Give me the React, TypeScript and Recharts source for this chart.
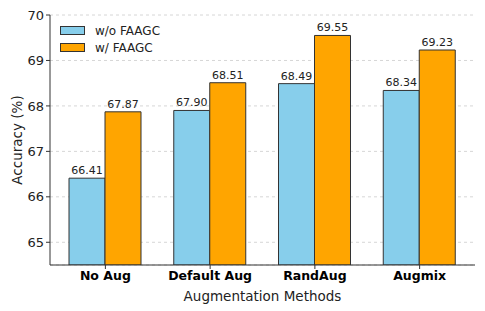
import { BarChart, Bar, XAxis, YAxis, CartesianGrid, LabelList } from 'recharts'

const methods = ['No Aug', 'Default Aug', 'RandAug', 'Augmix']
const withoutFaagc = [66.41, 67.9, 68.49, 68.34]
const withFaagc = [67.87, 68.51, 69.55, 69.23]
const yTicks = [65, 66, 67, 68, 69, 70]

const data = methods.map((m, i) => ({ method: m, without: withoutFaagc[i], with: withFaagc[i] }))

const FONT = '"DejaVu Sans", sans-serif'

const legendItems = [
  { label: 'w/o FAAGC', color: '#87CEEB' },
  { label: 'w/ FAAGC', color: '#FFA500' },
]

function LegendBox() {
  return (
    <div style={{ position: 'absolute', left: 60, top: 22, fontFamily: FONT, fontSize: 12, color: '#222' }}>
      {legendItems.map((it) => (
        <div key={it.label} style={{ display: 'flex', alignItems: 'center', height: 17 }}>
          <span
            style={{
              display: 'inline-block',
              width: 25,
              height: 9,
              background: it.color,
              border: '1px solid #333',
              boxSizing: 'border-box',
              marginRight: 10,
            }}
          />
          {it.label}
        </div>
      ))}
    </div>
  )
}

export default function App() {
  return (
    <div style={{ position: 'absolute', left: 0, top: 0, width: 485, height: 311, background: '#fff' }}>
      <BarChart
        width={485}
        height={311}
        data={data}
        margin={{ top: 15, right: 10, left: 0, bottom: 0 }}
        barGap={0}
        barSize={36}
      >
        <CartesianGrid vertical={false} stroke="#d6d6d6" strokeDasharray="3 3" />
        <XAxis
          dataKey="method"
          height={46}
          padding={{ left: 3, right: 3 }}
          axisLine={{ stroke: '#333' }}
          tickLine={{ stroke: '#333' }}
          tickSize={4}
          tick={{ fontFamily: FONT, fontSize: 12.5, fontWeight: 'bold', fill: '#000' }}
          label={{
            value: 'Augmentation Methods',
            position: 'insideBottom',
            offset: 10,
            style: { fontFamily: FONT, fontSize: 13.5, fill: '#222' },
          }}
        />
        <YAxis
          width={50}
          domain={[64.5, 70]}
          ticks={yTicks}
          allowDataOverflow
          axisLine={{ stroke: '#333' }}
          tickLine={{ stroke: '#333' }}
          tickSize={4}
          tick={{ fontFamily: FONT, fontSize: 13, fill: '#222' }}
          label={{
            value: 'Accuracy (%)',
            angle: -90,
            position: 'insideLeft',
            offset: 17,
            style: { fontFamily: FONT, fontSize: 13.5, fill: '#222', textAnchor: 'middle' },
          }}
        />
        <Bar dataKey="without" name="w/o FAAGC" fill="#87CEEB" stroke="#333" strokeWidth={1} isAnimationActive={false}>
          <LabelList
            dataKey="without"
            position="top"
            offset={4}
            formatter={(v: number) => v.toFixed(2)}
            style={{ fontFamily: FONT, fontSize: 11, fill: '#222' }}
          />
        </Bar>
        <Bar dataKey="with" name="w/ FAAGC" fill="#FFA500" stroke="#333" strokeWidth={1} isAnimationActive={false}>
          <LabelList
            dataKey="with"
            position="top"
            offset={4}
            formatter={(v: number) => v.toFixed(2)}
            style={{ fontFamily: FONT, fontSize: 11, fill: '#222' }}
          />
        </Bar>
      </BarChart>
      <LegendBox />
    </div>
  )
}
